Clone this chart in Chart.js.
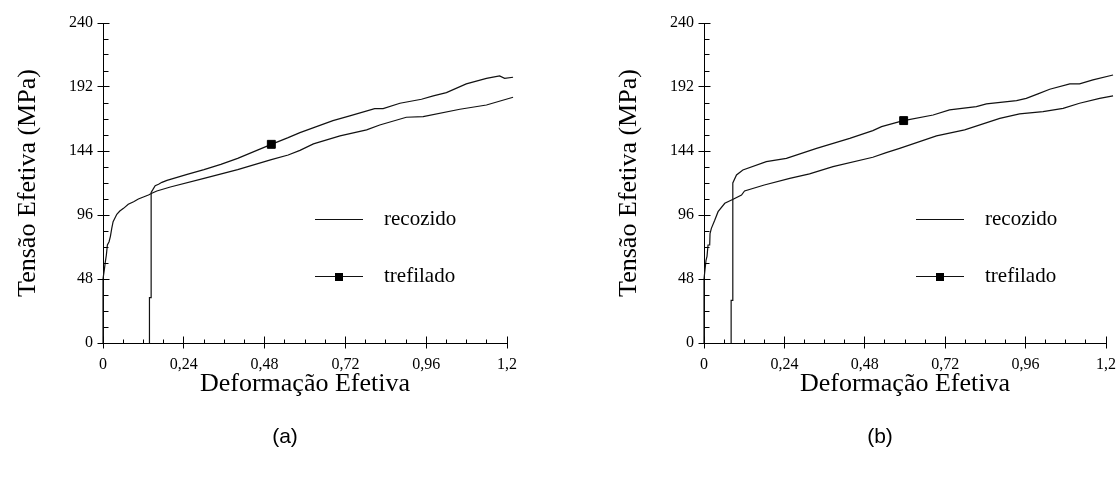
<!DOCTYPE html>
<html>
<head>
<meta charset="utf-8">
<script src="https://cdn.jsdelivr.net/npm/chart.js@4.4.1/dist/chart.umd.min.js"></script>
<style>
  html, body { margin: 0; padding: 0; background: #fff; }
  body { width: 1120px; height: 482px; position: relative; overflow: hidden; }
  canvas { position: absolute; top: 0; }
  .tag { position: absolute; top: 424px; width: 60px; text-align: center;
         font: 21px "Liberation Sans", Arial, sans-serif; color: #000; }
</style>
</head>
<body>
<canvas id="chartA" width="560" height="482" style="left:0px"></canvas>
<canvas id="chartB" width="560" height="482" style="left:601px"></canvas>
<div class="tag" style="left:255px">(a)</div>
<div class="tag" style="left:850px">(b)</div>
<script>
// Axis ticks and labels
const xTickValues = [0, 0.24, 0.48, 0.72, 0.96, 1.2];
const xTickLabels = ['0', '0,24', '0,48', '0,72', '0,96', '1,2'];
const yTickValues = [0, 48, 96, 144, 192, 240];
const yTickLabels = ['0', '48', '96', '144', '192', '240'];
const seriesNames = ['recozido', 'trefilado'];

// (a) effective stress (MPa) vs effective strain
const recozidoStrainA = [0, 0, 0.004, 0.007, 0.01, 0.013, 0.018, 0.022, 0.026, 0.03, 0.041, 0.05, 0.061, 0.075, 0.091,
  0.105, 0.12, 0.135, 0.145, 0.16, 0.2, 0.3, 0.4, 0.5, 0.55, 0.585, 0.625, 0.704, 0.783, 0.822, 0.901, 0.951, 1.06, 1.139, 1.218];
const recozidoStressA = [0, 48, 55, 61, 66, 73.5, 76, 80, 86, 91, 96.5, 99, 101, 104, 106,
  108, 109.5, 111, 112.3, 114, 117, 123.5, 130, 137.5, 141, 144.5, 149.3, 155.3, 159.8, 163.5, 169.3, 169.8, 175.3, 178.5, 184.3];
const trefiladoStrainA = [0.138, 0.138, 0.143, 0.143, 0.148, 0.155, 0.165, 0.175, 0.19, 0.25, 0.3, 0.35, 0.4, 0.457, 0.5,
  0.55, 0.585, 0.634, 0.683, 0.733, 0.807, 0.832, 0.882, 0.946, 0.981, 1.02, 1.079, 1.139, 1.178, 1.193, 1.218];
const trefiladoStressA = [0, 34, 34, 113, 115, 118, 119, 120.5, 122, 126.5, 130, 134, 138.5, 144.5, 149,
  154, 157.8, 162.3, 166.8, 170.3, 175.8, 175.8, 179.8, 182.8, 185.3, 187.8, 194.3, 198.5, 200.3, 198.5, 199.3];
const markerStrainA = 0.5;

// (b) effective stress (MPa) vs effective strain
const recozidoStrainB = [0, 0, 0.003, 0.006, 0.009, 0.012, 0.017, 0.018, 0.022, 0.032, 0.042, 0.062, 0.087, 0.112, 0.121,
  0.18, 0.256, 0.315, 0.385, 0.504, 0.544, 0.584, 0.694, 0.778, 0.883, 0.942, 1.012, 1.072, 1.121, 1.181, 1.221];
const recozidoStressB = [0, 48, 55, 62, 65, 73.5, 73.5, 82, 86, 92, 98.5, 104.8, 107.8, 111, 114,
  118.5, 123.5, 126.8, 132.3, 139.3, 142.8, 146, 155.3, 159.8, 168.5, 171.8, 173.5, 176, 179.8, 183.5, 185.3];
const trefiladoStrainB = [0.081, 0.081, 0.086, 0.086, 0.097, 0.116, 0.186, 0.246, 0.336, 0.435, 0.504, 0.53, 0.584,
  0.596, 0.684, 0.733, 0.813, 0.843, 0.933, 0.962, 0.997, 1.032, 1.092, 1.121, 1.161, 1.221];
const trefiladoStressB = [0, 32, 32, 120, 126, 129.8, 136, 138.5, 146, 153.5, 159.3, 162.3, 166,
  166.8, 171, 174.8, 177.3, 179.3, 181.8, 183.5, 186.8, 190.3, 194.3, 194.3, 197.3, 201];
const markerStrainB = 0.596;

const INK = '#000';
const SERIF = '"Liberation Serif", "Times New Roman", serif';

const toPoints = (xs, ys) => xs.map((x, i) => ({ x, y: ys[i] }));
const alignPx = p => Math.round(p - 0.5) + 0.5;

// Major/minor tick marks that cross the axis lines
const axisTicks = {
  id: 'axisTicks',
  afterDraw(chart) {
    const { ctx, scales: { x, y } } = chart;
    const axisY = alignPx(y.getPixelForValue(0));
    const axisX = alignPx(x.getPixelForValue(0));
    ctx.save();
    ctx.strokeStyle = INK;
    ctx.lineWidth = 1;
    ctx.beginPath();
    for (let i = 0; i <= 20; i++) {
      const px = alignPx(x.getPixelForValue(i * 0.06));
      if (i % 4 === 0) { ctx.moveTo(px, axisY - 7); ctx.lineTo(px, axisY + 5); }
      else { ctx.moveTo(px, axisY - 4); ctx.lineTo(px, axisY); }
      const py = alignPx(y.getPixelForValue(i * 12));
      if (i % 4 === 0) { ctx.moveTo(axisX - 6, py); ctx.lineTo(axisX + 6, py); }
      else { ctx.moveTo(axisX, py); ctx.lineTo(axisX + 5, py); }
    }
    ctx.stroke();
    ctx.restore();
  }
};

// Legend drawn inside the plot area
const innerLegend = {
  id: 'innerLegend',
  afterDraw(chart) {
    const { ctx, chartArea } = chart;
    const lx = chartArea.left + 212;
    ctx.save();
    chart.data.datasets.forEach((ds, i) => {
      const ly = Math.round(chartArea.top + 196 + i * 57) + 0.5;
      ctx.strokeStyle = ds.borderColor;
      ctx.lineWidth = 1;
      ctx.beginPath();
      ctx.moveTo(lx, ly);
      ctx.lineTo(lx + 48, ly);
      ctx.stroke();
      if (ds.legendMarker) {
        ctx.fillStyle = INK;
        ctx.fillRect(Math.round(lx + 24 - 4), Math.round(ly - 4), 8, 8);
      }
      ctx.fillStyle = INK;
      ctx.font = '21px ' + SERIF;
      ctx.textBaseline = 'middle';
      ctx.textAlign = 'left';
      ctx.fillText(ds.label, lx + 69, ly);
    });
    ctx.restore();
  }
};

function makeChart(id, recozido, trefilado, markerStrain, plotRight) {
  const lineStyle = {
    borderColor: '#111',
    borderWidth: 1.2,
    tension: 0,
    pointStyle: 'rect',
    pointBackgroundColor: INK,
    pointBorderColor: INK,
    pointBorderWidth: 1,
    pointHoverRadius: 0,
    clip: { left: 2, top: 2, right: 20, bottom: 2 }
  };
  return new Chart(document.getElementById(id), {
    type: 'line',
    data: {
      datasets: [
        Object.assign({}, lineStyle, { label: seriesNames[0], data: recozido, pointRadius: 0 }),
        Object.assign({}, lineStyle, {
          label: seriesNames[1], data: trefilado, legendMarker: true,
          pointRadius: c => (c.raw && c.raw.x === markerStrain ? 5.6 : 0)
        })
      ]
    },
    options: {
      responsive: false,
      animation: false,
      devicePixelRatio: 1,
      events: [],
      layout: { padding: { top: 23, right: 560 - plotRight, bottom: 82, left: 0 } },
      plugins: { legend: { display: false }, tooltip: { enabled: false } },
      scales: {
        x: {
          type: 'linear', min: 0, max: 1.2,
          afterFit: s => { s.height = 57; },
          afterBuildTicks: s => { s.ticks = xTickValues.map(v => ({ value: v })); },
          grid: { display: false, drawTicks: false },
          border: { display: true, color: INK, width: 1 },
          ticks: {
            color: INK, padding: 12, maxRotation: 0, autoSkip: false,
            font: { family: SERIF, size: 16 },
            callback: (v, i) => xTickLabels[i]
          },
          title: {
            display: true, text: 'Deformação Efetiva', color: INK,
            font: { family: SERIF, size: 26, lineHeight: 1.2 },
            padding: { top: 0, bottom: 0 }
          }
        },
        y: {
          type: 'linear', min: 0, max: 240,
          afterFit: s => { s.width = 103; },
          afterBuildTicks: s => { s.ticks = yTickValues.map(v => ({ value: v })); },
          grid: { display: false, drawTicks: false },
          border: { display: true, color: INK, width: 1 },
          ticks: {
            color: INK, padding: 10, autoSkip: false,
            font: { family: SERIF, size: 16 },
            callback: (v, i) => yTickLabels[i]
          },
          title: {
            display: true, text: 'Tensão Efetiva (MPa)', color: INK,
            font: { family: SERIF, size: 26, lineHeight: 1.2 },
            padding: { top: 12.4, bottom: 0 }
          }
        }
      }
    },
    plugins: [axisTicks, innerLegend]
  });
}

makeChart('chartA', toPoints(recozidoStrainA, recozidoStressA), toPoints(trefiladoStrainA, trefiladoStressA), markerStrainA, 507);
makeChart('chartB', toPoints(recozidoStrainB, recozidoStressB), toPoints(trefiladoStrainB, trefiladoStressB), markerStrainB, 505);
</script>
</body>
</html>
